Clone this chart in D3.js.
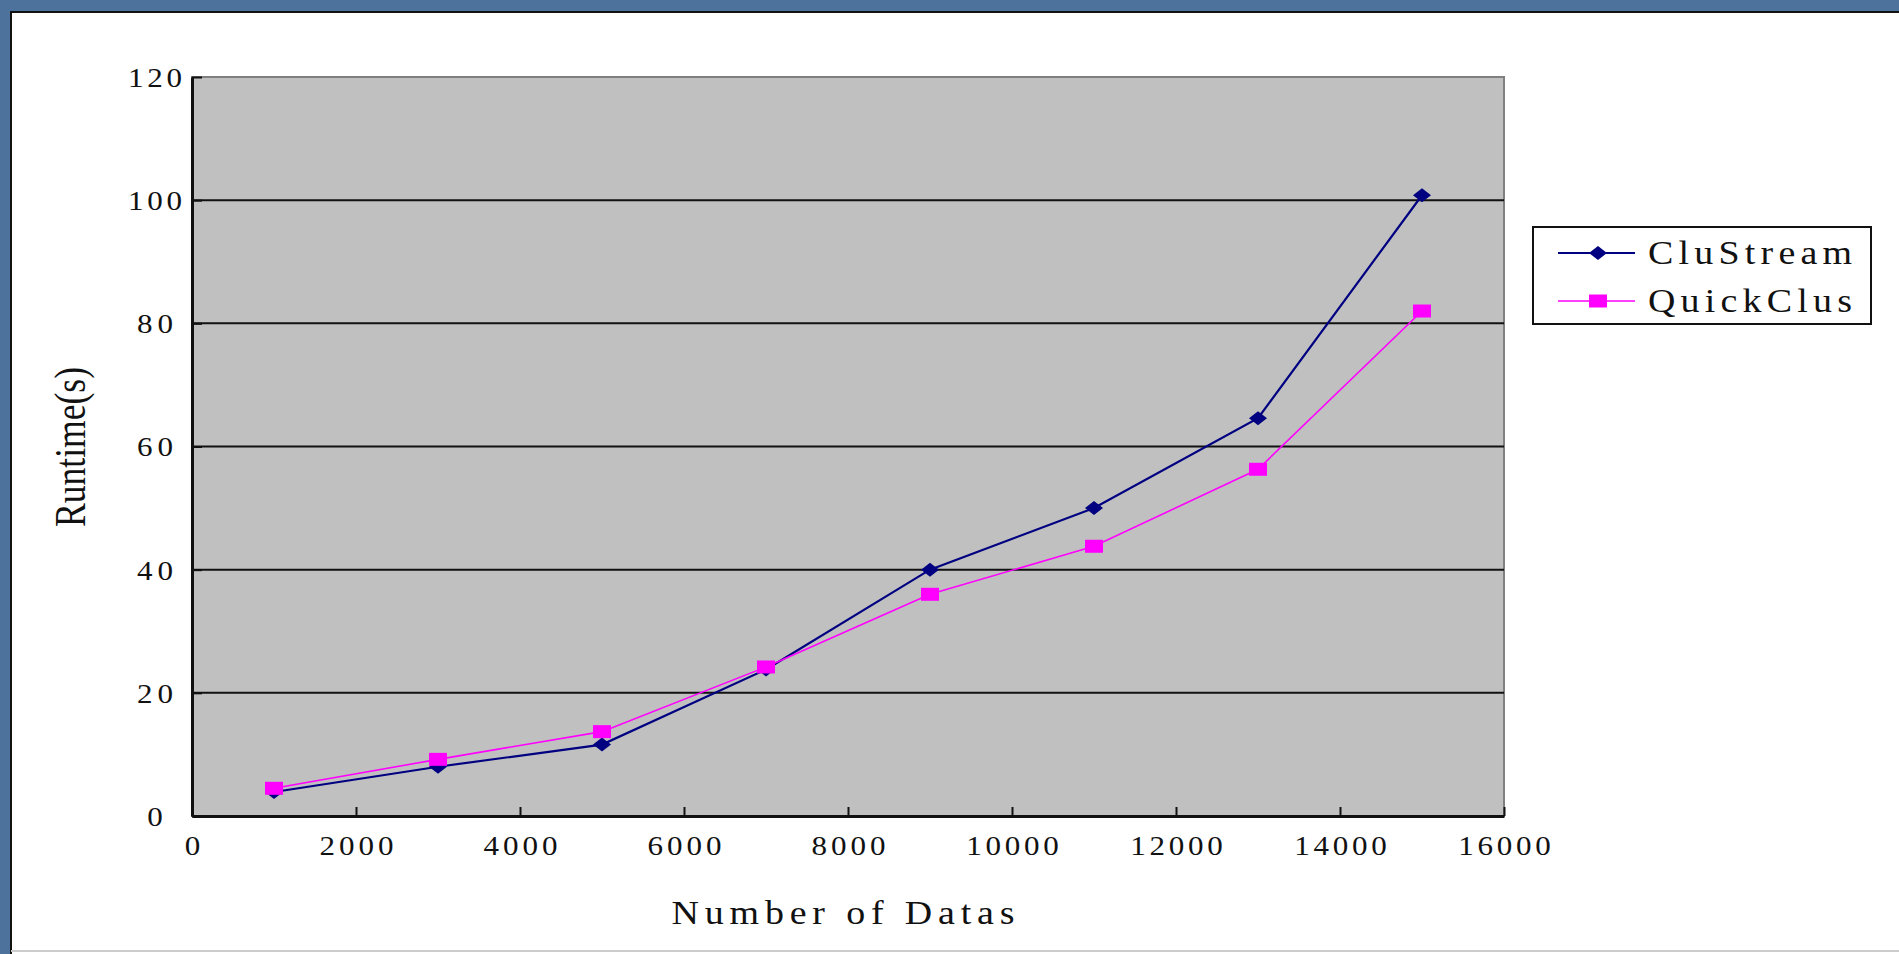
<!DOCTYPE html>
<html>

<head>
    <meta charset="utf-8">
    <title>Runtime chart</title>
    <style>
        body { margin: 0; background: #4d729c; }
        svg { display: block; }
        text { font-family: "Liberation Serif", "DejaVu Serif", serif; fill: #111; }
    </style>
</head>

<body>
    <script src='https://d3js.org/d3.v7.min.js'></script>
    <script>
    // data
    const dataSizes = [1000, 3000, 5000, 7000, 9000, 11000, 13000, 15000];
    const cluStream = [3.9, 8.0, 11.6, 23.8, 40.0, 50.0, 64.6, 100.8];
    const quickClus = [4.5, 9.2, 13.7, 24.2, 36.0, 43.8, 56.3, 82.0];
    const seriesNames = ["CluStream", "QuickClus"];
    const xTicks = [0, 2000, 4000, 6000, 8000, 10000, 12000, 14000, 16000];
    const yTicks = [0, 20, 40, 60, 80, 100, 120];

    const W = 1899, H = 954;
    const plot = { left: 192, right: 1504, top: 77, bottom: 816 };
    const stretch = 1.15; // glyphs in the picture are wide, like a stretched SimSun

    const svg = d3.select("body").append("svg")
        .attr("width", W)
        .attr("height", H);

    // blue slide background + white panel
    svg.append("rect").attr("width", W).attr("height", H).attr("fill", "#4d729c");
    svg.append("rect")
        .attr("x", 11).attr("y", 12)
        .attr("width", W - 11).attr("height", H - 12)
        .attr("fill", "#fff");
    svg.append("path")
        .attr("d", `M11,${H}V12H${W}`)
        .attr("fill", "none")
        .attr("stroke", "#111")
        .attr("stroke-width", 2);
    svg.append("line")
        .attr("x1", 11).attr("x2", W).attr("y1", 951).attr("y2", 951)
        .attr("stroke", "#ccc").attr("stroke-width", 2);

    const x = d3.scaleLinear().domain([0, 16000]).range([plot.left, plot.right]);
    const y = d3.scaleLinear().domain([0, 120]).range([plot.bottom, plot.top]);

    // plot area
    svg.append("rect")
        .attr("x", plot.left).attr("y", plot.top)
        .attr("width", plot.right - plot.left)
        .attr("height", plot.bottom - plot.top)
        .attr("fill", "#c0c0c0")
        .attr("stroke", "#808080")
        .attr("stroke-width", 2);

    // gridlines
    svg.append("g")
        .selectAll("line")
        .data(yTicks.filter(d => d > 0 && d < 120))
        .join("line")
        .attr("x1", plot.left).attr("x2", plot.right)
        .attr("y1", d => y(d)).attr("y2", d => y(d))
        .attr("stroke", "#111")
        .attr("stroke-width", 2);

    // x axis, ticks inside
    const xAxis = svg.append("g")
        .attr("transform", `translate(0,${plot.bottom})`)
        .call(d3.axisBottom(x).tickValues(xTicks).tickFormat(d3.format("d"))
            .tickSizeInner(-9).tickSizeOuter(0).tickPadding(20));
    xAxis.select(".domain").attr("stroke", "#111").attr("stroke-width", 3);
    xAxis.selectAll(".tick line").attr("stroke", "#111").attr("stroke-width", 2);
    xAxis.selectAll(".tick text")
        .attr("font-size", 27)
        .attr("transform", `scale(${stretch},1)`)
        .attr("textLength", d => String(d).length * 18.5 / stretch)
        .attr("lengthAdjust", "spacing");

    // y axis
    const yAxis = svg.append("g")
        .attr("transform", `translate(${plot.left},0)`)
        .call(d3.axisLeft(y).tickValues(yTicks)
            .tickSizeInner(-10).tickSizeOuter(0));
    yAxis.select(".domain").attr("stroke", "#111").attr("stroke-width", 3);
    yAxis.selectAll(".tick line").attr("stroke", "#111").attr("stroke-width", 2);
    yAxis.selectAll(".tick text")
        .attr("font-size", 27)
        .attr("text-anchor", "middle")
        .attr("transform", `scale(${stretch},1)`)
        .attr("x", -37 / stretch)
        .attr("dy", "0.35em")
        .attr("textLength", d => String(d).length * 18 / stretch)
        .attr("lengthAdjust", "spacing");

    // axis titles
    svg.append("text")
        .attr("transform", `translate(843,924) scale(${stretch},1)`)
        .attr("text-anchor", "middle")
        .attr("font-size", 33)
        .attr("textLength", 343 / stretch)
        .attr("lengthAdjust", "spacing")
        .text("Number of Datas");

    svg.append("text")
        .attr("transform", "translate(85,447) rotate(-90)")
        .attr("text-anchor", "middle")
        .attr("font-size", 44)
        .attr("textLength", 160)
        .attr("lengthAdjust", "spacingAndGlyphs")
        .text("Runtime(s)");

    // series
    const series = [
        { name: seriesNames[0], values: cluStream, color: "#000080", width: 2.2, shape: "diamond" },
        { name: seriesNames[1], values: quickClus, color: "#ff00ff", width: 1.6, shape: "square" }
    ];

    const line = d3.line()
        .x((d, i) => x(dataSizes[i]))
        .y(d => y(d));

    function marker(sel, shape, color) {
        if (shape === "diamond") {
            sel.append("path")
                .attr("d", "M-9,0L0,-7L9,0L0,7Z")
                .attr("fill", color);
        } else {
            sel.append("rect")
                .attr("x", -9).attr("y", -6.5)
                .attr("width", 18).attr("height", 13)
                .attr("fill", color);
        }
    }

    series.forEach(s => {
        svg.append("path")
            .datum(s.values)
            .attr("fill", "none")
            .attr("stroke", s.color)
            .attr("stroke-width", s.width)
            .attr("d", line);

        svg.append("g")
            .selectAll("g")
            .data(s.values)
            .join("g")
            .attr("transform", (d, i) => `translate(${x(dataSizes[i])},${y(d)})`)
            .each(function() { marker(d3.select(this), s.shape, s.color); });
    });

    // legend
    const legend = svg.append("g").attr("transform", "translate(1533,227)");
    legend.append("rect")
        .attr("width", 338).attr("height", 97)
        .attr("fill", "#fff")
        .attr("stroke", "#111")
        .attr("stroke-width", 2);

    series.forEach((s, i) => {
        const row = legend.append("g").attr("transform", `translate(0,${26 + i * 48})`);
        row.append("line")
            .attr("x1", 25).attr("x2", 102)
            .attr("stroke", s.color)
            .attr("stroke-width", s.width);
        const m = row.append("g").attr("transform", "translate(65,0)");
        marker(m, s.shape, s.color);
        row.append("text")
            .attr("transform", `translate(115,11) scale(${stretch},1)`)
            .attr("font-size", 33)
            .attr("textLength", 204 / stretch)
            .attr("lengthAdjust", "spacing")
            .text(s.name);
    });
    </script>
</body>

</html>
